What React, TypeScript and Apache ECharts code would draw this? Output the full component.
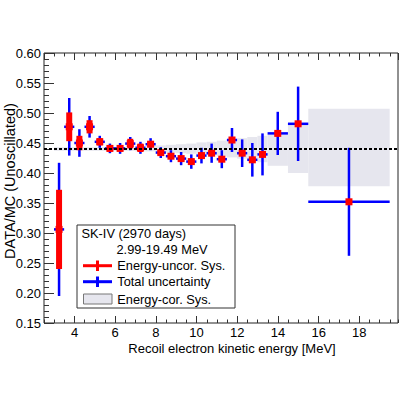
import React, { useEffect, useRef } from 'react';
import * as echarts from 'echarts';

// Energy bin edges [MeV]
const binEdges = [
  2.99, 3.49, 3.99, 4.49, 4.99, 5.49, 5.99, 6.49, 6.99, 7.49, 7.99, 8.49, 8.99,
  9.49, 9.99, 10.49, 10.99, 11.49, 11.99, 12.49, 12.99, 13.49, 14.49, 15.49, 19.49,
];
// DATA/MC ratio per bin
const ratio = [
  0.306, 0.477, 0.450, 0.477, 0.452, 0.441, 0.441, 0.449, 0.442, 0.448, 0.434, 0.428,
  0.424, 0.419, 0.429, 0.433, 0.423, 0.455, 0.433, 0.422, 0.431, 0.466, 0.482, 0.352,
];
// Energy-uncorrelated systematic (half height)
const uncorSys = [
  0.066, 0.024, 0.012, 0.011, 0.006, 0.005, 0.005, 0.008, 0.007, 0.005, 0.004, 0.004,
  0.004, 0.004, 0.004, 0.004, 0.004, 0.004, 0.004, 0.004, 0.004, 0.004, 0.004, 0.004,
];
// Total uncertainty (half height)
const totalErr = [
  0.111, 0.048, 0.023, 0.018, 0.010, 0.008, 0.009, 0.011, 0.010, 0.010, 0.009, 0.010,
  0.011, 0.012, 0.013, 0.016, 0.015, 0.020, 0.023, 0.028, 0.035, 0.036, 0.062, 0.090,
];
// Energy-correlated systematic band around the flat ratio
const corSysUp = [
  0.003, 0.003, 0.003, 0.003, 0.003, 0.003, 0.003, 0.003, 0.004, 0.005, 0.006, 0.007,
  0.008, 0.009, 0.011, 0.012, 0.014, 0.016, 0.018, 0.020, 0.022, 0.024, 0.040, 0.067,
];
const corSysDown = [
  0.003, 0.003, 0.003, 0.003, 0.003, 0.003, 0.003, 0.003, 0.004, 0.004, 0.005, 0.006,
  0.007, 0.008, 0.009, 0.010, 0.012, 0.014, 0.016, 0.018, 0.022, 0.028, 0.040, 0.062,
];
const flatRatio = 0.44;

const FONT = '"Liberation Sans", Arial, Helvetica, sans-serif';
const BLUE = '#0000ff';
const RED = '#ff0000';
const BAND = '#e6e6ee';
const AXIS = '#333333';

const X_MIN = 2.5;
const X_MAX = 19.9;

function majorXAxis(position: 'top' | 'bottom', labels: boolean) {
  return {
    type: 'value',
    position,
    min: X_MIN,
    max: X_MAX,
    minInterval: 2,
    maxInterval: 2,
    axisLine: { show: false, onZero: false },
    axisTick: { show: true, inside: true, length: 7, lineStyle: { color: AXIS, width: 1 } },
    axisLabel: {
      show: labels,
      showMinLabel: false,
      showMaxLabel: false,
      margin: 3,
      fontSize: 13,
      lineHeight: 13,
      fontFamily: FONT,
      color: '#000',
    },
    splitLine: { show: false },
  };
}

function minorXAxis(position: 'top' | 'bottom') {
  return {
    type: 'value',
    position,
    min: X_MIN,
    max: X_MAX,
    interval: 0.5,
    axisLine: { show: false, onZero: false },
    axisTick: { show: true, inside: true, length: 3.5, lineStyle: { color: AXIS, width: 1 } },
    axisLabel: { show: false },
    splitLine: { show: false },
  };
}

export default function App() {
  const ref = useRef<HTMLDivElement>(null);

  useEffect(() => {
    if (!ref.current) return;
    const chart = echarts.init(ref.current, undefined, { renderer: 'svg' });

    const points = ratio.map((v, i) => [binEdges[i], binEdges[i + 1], v, totalErr[i], uncorSys[i]]);
    const band = ratio.map((_, i) => [binEdges[i], binEdges[i + 1], corSysUp[i], corSysDown[i]]);

    const legendX = 77;
    const legendY = 225;
    const legendText = { fontSize: 12.8, fontFamily: FONT, fill: '#000', textVerticalAlign: 'middle' };

    chart.setOption({
      animation: false,
      backgroundColor: '#ffffff',
      grid: {
        left: 44,
        right: 2,
        top: 53,
        bottom: 77,
        show: true,
        borderColor: '#222',
        borderWidth: 1,
        backgroundColor: 'transparent',
      },
      xAxis: [
        majorXAxis('bottom', true),
        minorXAxis('bottom'),
        majorXAxis('top', false),
        minorXAxis('top'),
      ],
      yAxis: [
        {
          type: 'value',
          position: 'left',
          min: 0.15,
          max: 0.6,
          interval: 0.05,
          axisLine: { show: false, onZero: false },
          axisTick: { show: true, inside: true, length: 10, lineStyle: { color: AXIS, width: 1 } },
          minorTick: { show: true, splitNumber: 5, length: 5, lineStyle: { color: AXIS, width: 1 } },
          axisLabel: {
            margin: 3,
            fontSize: 13,
            fontFamily: FONT,
            color: '#000',
            formatter: (v: number) => v.toFixed(2),
          },
          splitLine: { show: false },
          minorSplitLine: { show: false },
        },
      ],
      series: [
        {
          type: 'custom',
          name: 'Energy-cor. Sys.',
          xAxisIndex: 0,
          yAxisIndex: 0,
          z: 1,
          data: band,
          renderItem: (params: any, api: any) => {
            const lo = api.value(0);
            const hi = api.value(1);
            const up = api.value(2);
            const dn = api.value(3);
            const p1 = api.coord([lo, flatRatio + up]);
            const p2 = api.coord([hi, flatRatio - dn]);
            return {
              type: 'rect',
              shape: { x: p1[0], y: p1[1], width: p2[0] - p1[0], height: p2[1] - p1[1] },
              style: { fill: BAND },
            };
          },
        },
        {
          type: 'line',
          name: 'flat',
          xAxisIndex: 0,
          yAxisIndex: 0,
          z: 2,
          data: [],
          markLine: {
            silent: true,
            symbol: 'none',
            label: { show: false },
            lineStyle: { color: '#000', type: [3, 2], width: 2 },
            data: [{ yAxis: flatRatio }],
          },
        },
        {
          type: 'custom',
          name: 'Total uncertainty',
          xAxisIndex: 0,
          yAxisIndex: 0,
          z: 3,
          data: points,
          renderItem: (params: any, api: any) => {
            const lo = api.value(0);
            const hi = api.value(1);
            const v = api.value(2);
            const e = api.value(3);
            const c = (lo + hi) / 2;
            const top = api.coord([c, v + e]);
            const bot = api.coord([c, v - e]);
            const l = api.coord([lo, v]);
            const r = api.coord([hi, v]);
            return {
              type: 'group',
              children: [
                {
                  type: 'line',
                  shape: { x1: top[0], y1: top[1], x2: bot[0], y2: bot[1] },
                  style: { stroke: BLUE, lineWidth: 2.5 },
                },
                {
                  type: 'line',
                  shape: { x1: l[0], y1: l[1], x2: r[0], y2: r[1] },
                  style: { stroke: BLUE, lineWidth: 2.5 },
                },
              ],
            };
          },
        },
        {
          type: 'custom',
          name: 'Energy-uncor. Sys.',
          xAxisIndex: 0,
          yAxisIndex: 0,
          z: 4,
          data: points,
          renderItem: (params: any, api: any) => {
            const lo = api.value(0);
            const hi = api.value(1);
            const v = api.value(2);
            const u = api.value(4);
            const c = (lo + hi) / 2;
            const top = api.coord([c, v + u]);
            const bot = api.coord([c, v - u]);
            const mid = api.coord([c, v]);
            return {
              type: 'group',
              children: [
                {
                  type: 'rect',
                  shape: { x: top[0] - 3, y: top[1], width: 6, height: bot[1] - top[1] },
                  style: { fill: RED },
                },
                {
                  type: 'rect',
                  shape: { x: mid[0] - 3.5, y: mid[1] - 3.5, width: 7, height: 7 },
                  style: { fill: RED },
                },
              ],
            };
          },
        },
      ],
      graphic: [
        {
          type: 'text',
          x: 10,
          y: 181,
          rotation: Math.PI / 2,
          style: {
            text: 'DATA/MC (Unoscillated)',
            fontSize: 14.5,
            lineHeight: 15,
            fontFamily: FONT,
            fill: '#000',
            textAlign: 'center',
            textVerticalAlign: 'middle',
          },
        },
        {
          type: 'text',
          x: 232,
          y: 348.5,
          style: {
            text: 'Recoil electron kinetic energy [MeV]',
            fontSize: 13,
            lineHeight: 13,
            fontFamily: FONT,
            fill: '#000',
            textAlign: 'center',
            textVerticalAlign: 'middle',
          },
        },
        {
          type: 'group',
          x: legendX,
          y: legendY,
          z: 10,
          children: [
            {
              type: 'rect',
              shape: { x: 0, y: 0, width: 158, height: 83 },
              style: { fill: '#fff', stroke: '#333', lineWidth: 1 },
            },
            { type: 'text', x: 4.5, y: 8.5, style: { ...legendText, text: 'SK-IV (2970 days)' } },
            { type: 'text', x: 39.5, y: 24.5, style: { ...legendText, text: '2.99-19.49 MeV' } },
            // red cross
            { type: 'line', shape: { x1: 6, y1: 40.7, x2: 35, y2: 40.7 }, style: { stroke: RED, lineWidth: 3 } },
            { type: 'line', shape: { x1: 20.5, y1: 35.5, x2: 20.5, y2: 46 }, style: { stroke: RED, lineWidth: 3 } },
            { type: 'text', x: 40.3, y: 40.7, style: { ...legendText, text: 'Energy-uncor. Sys.' } },
            // blue cross
            { type: 'line', shape: { x1: 6, y1: 56.7, x2: 35, y2: 56.7 }, style: { stroke: BLUE, lineWidth: 3 } },
            { type: 'line', shape: { x1: 20.5, y1: 51.5, x2: 20.5, y2: 62 }, style: { stroke: BLUE, lineWidth: 3 } },
            { type: 'text', x: 40.3, y: 56.7, style: { ...legendText, text: 'Total uncertainty' } },
            // band swatch
            {
              type: 'rect',
              shape: { x: 6.5, y: 69, width: 28.5, height: 10 },
              style: { fill: BAND, stroke: '#777', lineWidth: 1 },
            },
            { type: 'text', x: 40.3, y: 74, style: { ...legendText, text: 'Energy-cor. Sys.' } },
          ],
        },
      ],
    });

    return () => {
      chart.dispose();
    };
  }, []);

  return (
    <div
      ref={ref}
      style={{ position: 'fixed', left: 0, top: 0, width: 400, height: 400, background: '#fff' }}
    />
  );
}
